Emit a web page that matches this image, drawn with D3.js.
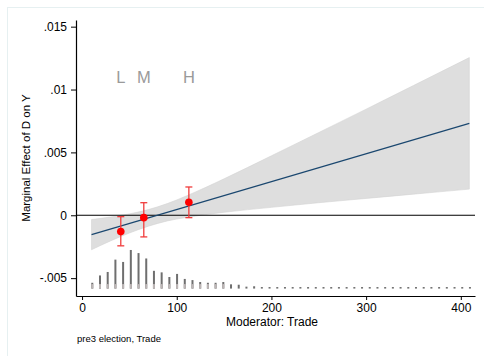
<!DOCTYPE html>
<html><head><meta charset="utf-8">
<script src="https://cdn.jsdelivr.net/npm/d3@7"></script>
<style>
html,body{margin:0;padding:0;background:#fff;}
text{font-family:"Liberation Sans",Arial,Helvetica,sans-serif;}
</style></head>
<body>
<svg id="chart" width="484" height="356"></svg>
<script>
// Marginal effect line (endpoints of moderator range)
const lineX = [10, 409];
const lineY = [-0.00154, 0.00731];
// Confidence band
const bandX =     [10,       30,       50,       70,       90,       110,      150,     200,     250,     300,     350,     409];
const bandUpper = [-0.00034, -0.00014, 0.00011,  0.00045,  0.00093,  0.00153,  0.00290, 0.00473, 0.00658, 0.00844, 0.01032, 0.01254];
const bandLower = [-0.00274, -0.00204, -0.00141, -0.00087, -0.00045, -0.00017, 0.00024, 0.00063, 0.00100, 0.00134, 0.00168, 0.00208];
// Binned estimates L, M, H
const binLabels = ["L", "M", "H"];
const binX = [40.9, 65.2, 112.8];
const binEst = [-0.00130, -0.00019, 0.00103];
const binLo = [-0.00243, -0.00172, -0.00019];
const binHi = [-0.00011, 0.00100, 0.00225];
// Histogram of moderator
const histStart = 10.8;
const histWidth = 8.14;
const histCounts = [15, 34, 43, 75, 69, 100, 92, 78, 46, 42, 30, 38, 25, 22, 17, 15, 15, 17, 11, 10, 5, 6,
  4,4,4,4,4,4,4,4,4,4,4,4,4,4,4,4,4,4,4,4,4,4,4,4,4,4,4,4];
// Axes
const xTicks = [0, 100, 200, 300, 400];
const yTicks = [-0.005, 0, 0.005, 0.01, 0.015];
const yTickLabels = ["-.005", "0", ".005", ".01", ".015"];
const xTitle = "Moderator: Trade";
const yTitle = "Marginal Effect of D on Y";
const note = "pre3 election, Trade";

const svg = d3.select("#chart");
const x = d3.scaleLinear().domain([-6.4, 415]).range([76, 475]);
const y = d3.scaleLinear().domain([-0.00642, 0.01553]).range([296, 20]);
const histBase = -0.00583, histTop = -0.00276;
const h = d3.scaleLinear().domain([0, d3.max(histCounts)]).range([y(histBase), y(histTop)]);

// outer border
svg.append("rect").attr("x", 7.5).attr("y", 7.5).attr("width", 490).attr("height", 360)
  .attr("fill", "none").attr("stroke", "#e6f0f1").attr("stroke-width", 1);

// band
const bandData = bandX.map((v, i) => ({x: v, lo: bandLower[i], hi: bandUpper[i]}));
svg.append("path").datum(bandData)
  .attr("d", d3.area().x(d => x(d.x)).y0(d => y(d.lo)).y1(d => y(d.hi)).curve(d3.curveMonotoneX))
  .attr("fill", "#dedede").attr("stroke", "#d4d4d4").attr("stroke-width", 0.6);

// zero line
svg.append("line").attr("x1", x.range()[0]).attr("x2", x.range()[1])
  .attr("y1", y(0)).attr("y2", y(0)).attr("stroke", "#000").attr("stroke-width", 1.2);

// marginal effect line
svg.append("path").datum(lineX.map((v, i) => [v, lineY[i]]))
  .attr("d", d3.line().x(d => x(d[0])).y(d => y(d[1])))
  .attr("fill", "none").attr("stroke", "#1a476f").attr("stroke-width", 1.1);

// histogram
const hist = svg.append("g");
histCounts.forEach((c, i) => {
  const cx = x(histStart + histWidth * i);
  const top = h(c), base = h(0);
  hist.append("rect").attr("x", cx - 1).attr("width", 2)
    .attr("y", top).attr("height", base - top).attr("fill", "#6f6f6f");
  if (base - top > 5) {
    hist.append("rect").attr("x", cx - 1).attr("width", 2)
      .attr("y", base - 4.5).attr("height", 4.5).attr("fill", "#bdb6b6");
  }
});

// error bars and points
const eb = svg.append("g");
binX.forEach((v, i) => {
  const cx = x(v);
  eb.append("line").attr("x1", cx).attr("x2", cx).attr("y1", y(binLo[i])).attr("y2", y(binHi[i]))
    .attr("stroke", "#f03c3c").attr("stroke-width", 1.3);
  [binLo[i], binHi[i]].forEach(e => {
    eb.append("line").attr("x1", cx - 3.5).attr("x2", cx + 3.5).attr("y1", y(e)).attr("y2", y(e))
      .attr("stroke", "#f03c3c").attr("stroke-width", 1.3);
  });
  eb.append("circle").attr("cx", cx).attr("cy", y(binEst[i])).attr("r", 3.8).attr("fill", "#ff0000");
  svg.append("text").attr("x", cx).attr("y", y(0.01052)).attr("text-anchor", "middle")
    .attr("font-size", 16.5).attr("fill", "#9a9a9a").text(binLabels[i]);
});

// axes
const xAxis = svg.append("g").attr("transform", `translate(0,${y.range()[0]})`)
  .call(d3.axisBottom(x).tickValues(xTicks).tickFormat(d3.format("d")).tickSize(4).tickSizeOuter(0));
const yAxis = svg.append("g").attr("transform", `translate(${x.range()[0]},0)`)
  .call(d3.axisLeft(y).tickValues(yTicks).tickFormat((d, i) => yTickLabels[i]).tickSize(5).tickSizeOuter(0));
[xAxis, yAxis].forEach(a => {
  a.select(".domain").attr("stroke", "#000").attr("stroke-width", 1.2);
  a.selectAll(".tick line").attr("stroke", "#000");
  a.selectAll(".tick text").attr("font-size", 12).attr("fill", "#000")
    .attr("font-family", "Liberation Sans, Arial, sans-serif");
});
xAxis.selectAll(".tick text").attr("dy", "0.71em").attr("y", 7);
yAxis.selectAll(".tick text").attr("x", -9);

svg.append("text").attr("x", 272).attr("y", 326).attr("text-anchor", "middle")
  .attr("font-size", 12).attr("fill", "#000").text(xTitle);
svg.append("text").attr("transform", "translate(30,158) rotate(-90)").attr("text-anchor", "middle")
  .attr("font-size", 11.5).attr("fill", "#000").text(yTitle);
svg.append("text").attr("x", 77).attr("y", 342).attr("font-size", 9.5).attr("fill", "#000").text(note);
</script>
</body></html>
